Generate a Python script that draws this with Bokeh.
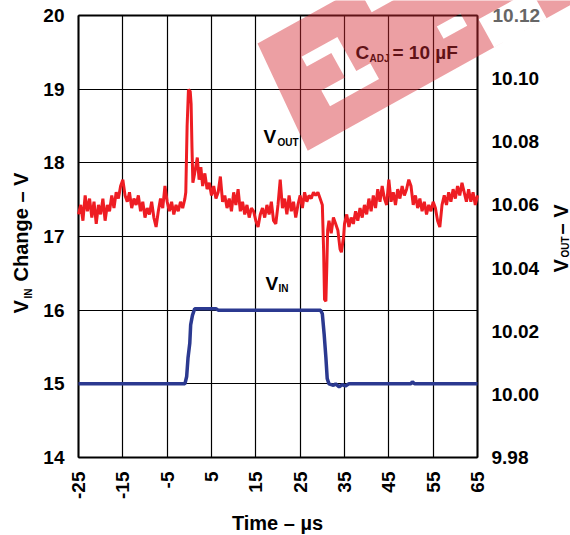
from math import pi
from bokeh.plotting import figure
from bokeh.models import Range1d, LinearAxis, FixedTicker, Label, PolyAnnotation
from bokeh.embed import file_html
from bokeh.resources import INLINE

# ---------------- data ----------------
time_ticks = [-25, -15, -5, 5, 15, 25, 35, 45, 55, 65]
time_tick_labels = ["-25", "-15", "-5", "5", "15", "25", "35", "45", "55", "65"]
vin_ticks = [14, 15, 16, 17, 18, 19, 20]
vout_tick_labels = ["9.98", "10.00", "10.02", "10.04", "10.06", "10.08", "10.10", "10.12"]

vin_time = [-25.0, -1.0, -0.6, -0.3, 0.1, 0.3, 0.7, 1.2, 6.0, 6.5, 29.6, 30.0, 30.4, 30.8,
            31.1, 31.5, 32.5, 33.0, 33.8, 34.5, 35.2, 36.0, 50.0, 50.3, 50.8, 65.0]
vin_value = [15.0, 15.0, 15.1, 15.35, 15.55, 15.8, 15.93, 16.02, 16.02, 16.0, 16.0, 15.95, 15.68, 15.36,
             15.07, 15.0, 14.98, 15.0, 14.96, 14.99, 14.97, 15.0, 15.0, 15.03, 15.0, 15.0]

vout_time = [-25.0, -24.5, -24.0, -23.5, -23.0, -22.5, -22.0, -21.5, -21.0, -20.5, -20.0, -19.5,
             -19.0, -18.5, -18.0, -17.5, -17.0, -16.5, -16.0, -15.5, -15.0, -14.5, -14.0, -13.5,
             -13.0, -12.5, -12.0, -11.5, -11.0, -10.5, -10.0, -9.5, -9.0, -8.5, -8.0, -7.5,
             -7.0, -6.5, -6.0, -5.5, -5.0, -4.5, -4.0, -3.5, -3.0, -2.5, -2.0, -1.5,
             -1.0, -0.8, -0.5, -0.2, 0.2, 0.4, 0.6, 0.8, 1.2, 1.8, 2.2, 2.6,
             3.0, 3.5, 4.0, 4.5, 5.0, 5.5, 6.0, 6.5, 7.0, 7.5, 8.0, 8.5,
             9.0, 9.5, 10.0, 10.5, 11.0, 11.5, 12.0, 12.5, 13.0, 13.5, 14.0, 14.5,
             15.0, 15.5, 16.0, 16.5, 17.0, 17.5, 18.0, 18.5, 19.0, 19.5, 20.0, 20.5,
             21.0, 21.5, 22.0, 22.5, 23.0, 23.5, 24.0, 24.5, 25.0, 25.5, 26.0, 26.5,
             27.0, 27.5, 28.0, 28.5, 29.0, 29.5, 30.0, 30.3, 30.5, 30.8, 31.0, 31.2,
             31.5, 32.0, 32.5, 33.0, 33.5, 34.0, 34.3, 34.8, 35.0, 35.5, 36.0, 36.5,
             37.0, 37.5, 38.0, 38.5, 39.0, 39.5, 40.0, 40.5, 41.0, 41.5, 42.0, 42.5,
             43.0, 43.5, 44.0, 44.5, 45.0, 45.5, 46.0, 46.5, 47.0, 47.5, 48.0, 48.5,
             49.0, 49.5, 50.0, 50.5, 51.0, 51.5, 52.0, 52.5, 53.0, 53.5, 54.0, 54.5,
             55.0, 55.5, 56.0, 56.5, 57.0, 57.5, 58.0, 58.5, 59.0, 59.5, 60.0, 60.5,
             61.0, 61.5, 62.0, 62.5, 63.0, 63.5, 64.0, 64.5, 65.0]
vout_value = [10.057, 10.060, 10.055, 10.063, 10.058, 10.062, 10.056, 10.061, 10.054, 10.060, 10.057, 10.062,
              10.055, 10.060, 10.058, 10.063, 10.059, 10.064, 10.062, 10.066, 10.068, 10.063, 10.061, 10.064,
              10.059, 10.062, 10.060, 10.063, 10.058, 10.061, 10.056, 10.059, 10.057, 10.061, 10.056, 10.053,
              10.058, 10.062, 10.059, 10.066, 10.061, 10.058, 10.061, 10.057, 10.060, 10.058, 10.061, 10.059,
              10.062, 10.064, 10.085, 10.0965, 10.096, 10.092, 10.078, 10.067, 10.070, 10.075, 10.068, 10.072,
              10.066, 10.070, 10.065, 10.067, 10.063, 10.066, 10.062, 10.064, 10.069, 10.061, 10.063, 10.059,
              10.062, 10.058, 10.064, 10.060, 10.065, 10.058, 10.061, 10.057, 10.060, 10.056, 10.059, 10.058,
              10.055, 10.053, 10.057, 10.059, 10.056, 10.060, 10.057, 10.061, 10.055, 10.054, 10.060, 10.068,
              10.059, 10.062, 10.057, 10.063, 10.058, 10.061, 10.056, 10.060, 10.063, 10.059, 10.064, 10.061,
              10.063, 10.062, 10.064, 10.063, 10.064, 10.062, 10.060, 10.045, 10.030, 10.0295, 10.040, 10.052,
              10.055, 10.051, 10.056, 10.054, 10.052, 10.046, 10.045, 10.050, 10.054, 10.057, 10.053, 10.056,
              10.054, 10.058, 10.055, 10.059, 10.056, 10.060, 10.057, 10.062, 10.058, 10.063, 10.059, 10.065,
              10.061, 10.066, 10.062, 10.060, 10.068, 10.061, 10.064, 10.060, 10.065, 10.062, 10.066, 10.063,
              10.065, 10.068, 10.066, 10.060, 10.063, 10.059, 10.062, 10.058, 10.061, 10.057, 10.060, 10.058,
              10.061, 10.059, 10.055, 10.053, 10.060, 10.063, 10.060, 10.064, 10.061, 10.065, 10.062, 10.066,
              10.063, 10.067, 10.064, 10.061, 10.065, 10.061, 10.064, 10.060, 10.063]

# ---------------- layout geometry ----------------
W, H = 570, 535
BL, BR, BT, BB = 78, 477, 15, 457        # plot box edges in canvas px
T0, T1 = time_ticks[0], time_ticks[-1]
V0, V1 = vin_ticks[0], vin_ticks[-1]
R0, R1 = float(vout_tick_labels[0]), float(vout_tick_labels[-1])
FONT = "Liberation Sans"

def xd(px):   # canvas px -> time
    return T0 + (px - BL) * (T1 - T0) / (BR - BL)

def yd(py):   # canvas px -> left-axis volts
    return V0 + (BB - py) * (V1 - V0) / (BB - BT)

def rd(py):   # canvas px -> right-axis volts
    return R0 + (BB - py) * (R1 - R0) / (BB - BT)

# the frame spans the whole canvas; axes are pinned to the plot box edges
p = figure(width=W, height=H, x_range=Range1d(xd(0), xd(W)), y_range=Range1d(yd(H), yd(0)),
           output_backend="svg", toolbar_location=None,
           min_border_left=0, min_border_right=0, min_border_top=0, min_border_bottom=0)
p.extra_y_ranges = {"vout": Range1d(rd(H), rd(0))}
p.outline_line_color = None
p.background_fill_color = "white"
p.border_fill_color = "white"
p.xgrid.visible = False
p.ygrid.visible = False

xax = p.below[0]
lax = p.left[0]
rax = LinearAxis(y_range_name="vout")
p.add_layout(rax, "right")
tax = LinearAxis()
p.add_layout(tax, "above")

xax.fixed_location = V0
xax.bounds = (T0, T1)
xax.ticker = FixedTicker(ticks=time_ticks)
xax.major_label_overrides = dict(zip(time_ticks, time_tick_labels))
xax.major_label_orientation = pi / 2
xax.major_tick_in = BB - BT          # ticks double as vertical grid lines

lax.fixed_location = T0
lax.bounds = (V0, V1)
lax.ticker = FixedTicker(ticks=vin_ticks)
lax.major_tick_in = BR - BL          # ticks double as horizontal grid lines

vout_vals = [float(s) for s in vout_tick_labels]
rax.fixed_location = T1
rax.bounds = (R0, R1)
rax.ticker = FixedTicker(ticks=vout_vals)
over = {float(s): s for s in vout_tick_labels}
over[vout_vals[-1]] = ""
rax.major_label_overrides = over
rax.major_tick_in = 0

tax.fixed_location = V1
tax.bounds = (T0, T1)
tax.ticker = FixedTicker(ticks=[])
tax.major_tick_in = 0

for ax in (xax, lax, rax, tax):
    ax.major_label_text_font = FONT
    ax.major_label_text_font_style = "bold"
    ax.major_label_text_font_size = "19px"
    ax.major_label_text_color = "black"
    ax.major_tick_out = 0
    ax.minor_tick_in = 0
    ax.minor_tick_out = 0
    ax.major_tick_line_color = "black"
    ax.major_tick_line_width = 1.2
    ax.axis_line_width = 2
    ax.axis_line_color = "black"
    ax.major_label_standoff = 14

# traces drawn above the tick/grid lines
p.line(vin_time, vin_value, line_color="#2B3990", line_width=3.5, level="overlay")
p.line(vout_time, vout_value, line_color="#EE1D23", line_width=3, y_range_name="vout", level="overlay")

def lab(x, y, text, size=19, angle=0, align="left", baseline="alphabetic", color="black"):
    if baseline == "alphabetic":
        y -= 0.37 * size     # empirical correction of the rendered baseline
    p.add_layout(Label(x=xd(x), y=yd(y), text=text, text_font=FONT, text_font_style="bold",
                       text_font_size=f"{size}px", angle=angle, text_align=align,
                       text_baseline=baseline, text_color=color))

# in-plot annotations (positions in canvas px, alphabetic baselines)
lab(263, 143, "V")
lab(277, 146, "OUT", size=10)
lab(265, 290, "V")
lab(278, 292, "IN", size=10)
lab(355, 59, "C")
lab(369, 62, "ADJ", size=10)
lab(392, 59, "= 10 µF")

# axis titles
lab(277, 530, "Time – µs", size=20, align="center")
lab(20, 313, "V", size=20, angle=pi / 2, baseline="middle")
lab(28, 298, "IN", size=10, angle=pi / 2, baseline="middle")
lab(20, 281, "Change – V", size=20, angle=pi / 2, baseline="middle")
lab(560, 272, "V", size=20, angle=pi / 2, baseline="middle")
lab(565, 257, "OUT", size=10, angle=pi / 2, baseline="middle")
lab(560, 234, "– V", size=20, angle=pi / 2, baseline="middle")
lab(492, 15, vout_tick_labels[-1], baseline="middle", color="#666666")

# ---------------- watermark (decorative overlay) ----------------
def band_pt(s, t):
    x = 257 + s * 0.875 + t * 0.485
    y = 43 - s * 0.485 + t * 0.875
    return xd(x), yd(y)

outer = [(0, 0), (420, 0), (420, 118), (-8, 118)]
holes = [
    [(32, 33), (32, 44), (60, 44), (60, 72), (33, 72), (33, 90), (89, 90), (89, 72), (73, 72), (73, 33)],
    [(165, 72), (165, 86), (192, 86), (192, 72)],
    [(205, 86), (205, 118), (265, 118), (265, 86)],
    [(115, 14), (115, 28), (160, 28), (160, 14)],
]
path = outer + [outer[0]]
for h in holes:
    path += h + [h[0], outer[0]]
pts = [band_pt(s, t) for s, t in path]
wm = PolyAnnotation(xs=[q[0] for q in pts], ys=[q[1] for q in pts],
                    fill_color="#D42A33", fill_alpha=0.45, line_alpha=0, level="overlay")
p.add_layout(wm)

open("out.html", "w").write(file_html(p, INLINE))
